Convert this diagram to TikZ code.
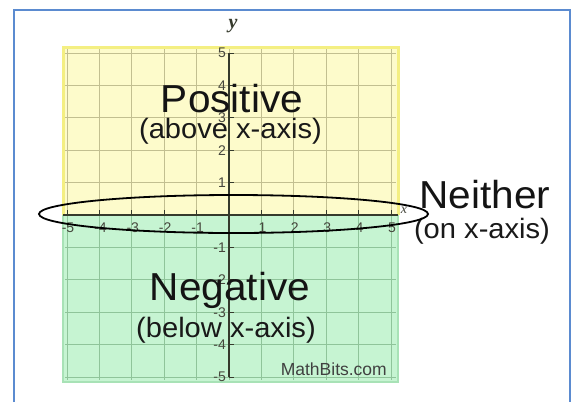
\documentclass[tikz,border=0pt]{standalone}
\usepackage{fontspec}
\setmainfont{Liberation Sans}
\newfontfamily\serifface{Liberation Serif}
\newfontfamily\wideface[FakeStretch=1.04]{Liberation Sans}
\definecolor{framebl}{HTML}{5B8BD0}
\definecolor{yelfill}{HTML}{FDFBCB}
\definecolor{yelline}{HTML}{F4EF82}
\definecolor{grnfill}{HTML}{C6F4D2}
\definecolor{grnline}{HTML}{A8E2B6}
\definecolor{gridy}{HTML}{C2BF90}
\definecolor{gridg}{HTML}{8FC49A}
\definecolor{axiscol}{HTML}{353A2C}
\definecolor{ticklab}{HTML}{45463C}
\tikzset{
  bigword/.style={font=\wideface\fontsize{39}{39}\selectfont, anchor=base, inner sep=0pt, text=black!92},
  smallword/.style={font=\wideface\fontsize{28}{28}\selectfont, anchor=base, inner sep=0pt, text=black!90},
  ticktext/.style={font=\fontsize{14}{14}\selectfont, text=ticklab, inner sep=0pt},
}
\begin{document}
\begin{tikzpicture}[x=1pt,y=-1pt]
\useasboundingbox (0,0) rectangle (577,402);
\fill[white] (0,0) rectangle (577,402);
% frame
\draw[framebl, line width=2pt] (14,402) -- (14,9.5) -- (570,9.5) -- (570,402);
% regions
\fill[yelfill] (63,47) rectangle (398,215);
\fill[grnfill] (63,215) rectangle (398,382);
\draw[yelline, line width=3pt] (63,215) -- (63,47) -- (398,47) -- (398,215);
\draw[grnline, line width=2pt] (63,215) -- (63,382) -- (398,382) -- (398,215);
% grid
\foreach \i in {-5,...,5} {
  \draw[gridy, line width=1pt] (229+32.4*\i,49) -- (229+32.4*\i,215);
  \draw[gridg, line width=1pt] (229+32.4*\i,215) -- (229+32.4*\i,380);
}
\foreach \j in {1,...,5} {
  \draw[gridy, line width=1pt] (65,215-32.4*\j) -- (396,215-32.4*\j);
  \draw[gridg, line width=1pt] (65,215+32.4*\j) -- (396,215+32.4*\j);
}
% axes
\draw[axiscol, line width=2pt] (63,215) -- (398,215);
\draw[axiscol, line width=2pt] (229,53) -- (229,377);
\foreach \i in {-5,...,-1,1,2,...,5} {
  \draw[axiscol, line width=1pt] (229+32.4*\i,215) -- (229+32.4*\i,210);
  \draw[axiscol, line width=1pt] (229,215-32.4*\i) -- (234,215-32.4*\i);
  \node[ticktext] (xl\i) at (229+32.4*\i+1,228) {\i};
  \node[ticktext, anchor=east] (yl\i) at (226,215-32.4*\i) {\i};
}
\node[font=\serifface\bfseries\itshape\fontsize{20}{20}\selectfont, text=axiscol, inner sep=0pt] (ylab) at (233,26) {y};
\node[font=\serifface\itshape\fontsize{14}{14}\selectfont, text=ticklab, inner sep=0pt] (xlab) at (404,210) {x};
% texts
\node[bigword] (pos) at (232,112) {Positive};
\node[smallword] (posd) at (230.5,138) {(above x-axis)};
\node[bigword] (neg) at (230,300) {Negative};
\node[smallword] (negd) at (226,337) {(below x-axis)};
\node[bigword] (nei) at (485,208) {Neither};
\node[smallword] (neid) at (482,238) {(on x-axis)};
\node[font=\fontsize{17.5}{17.5}\selectfont, text=black!75, anchor=base east, inner sep=0pt] (mb) at (387,375) {MathBits.com};
% ellipse
\draw[black, line width=1.8pt] (233.5,214) ellipse [x radius=194.5, y radius=19];
\end{tikzpicture}
\end{document}
